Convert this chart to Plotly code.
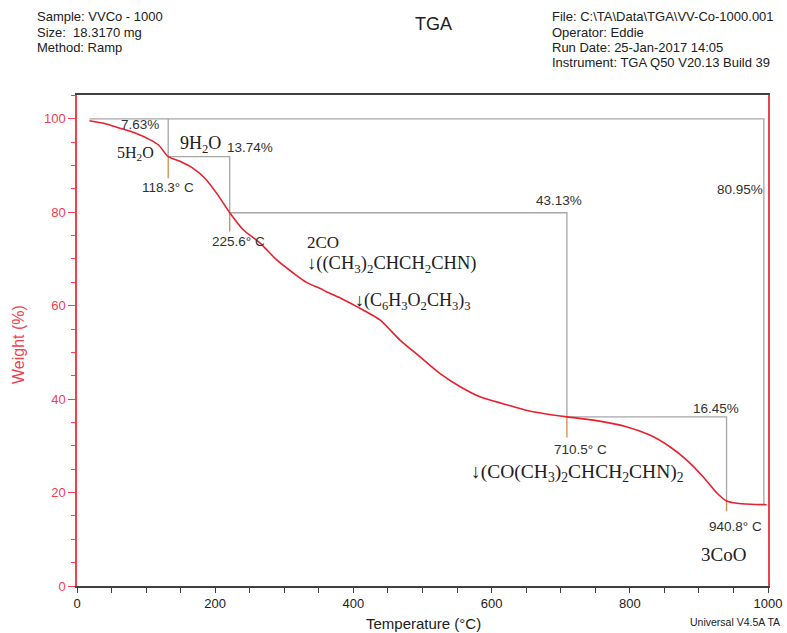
import plotly.graph_objects as go

# ---- data ----
temp_c = [18, 40, 62, 85, 106, 118, 132, 149, 168, 183, 202, 221, 241, 265, 289, 313,
          332, 352, 361, 383, 405, 438, 467, 496, 525, 554, 583, 622, 660, 709, 747,
          795, 829, 858, 882, 906, 926, 940, 955, 975, 998]
weight_pct = [99.6, 99.0, 98.0, 96.9, 95.5, 94.4, 91.9, 90.9, 89.4, 87.6, 84.1, 79.9,
              76.2, 73.4, 69.8, 67.0, 65.0, 63.7, 63.0, 61.5, 59.8, 57.0, 52.7, 49.1,
              45.5, 42.7, 40.5, 38.8, 37.3, 36.2, 35.5, 34.1, 32.3, 29.8, 27.0, 23.4,
              19.9, 18.2, 17.7, 17.5, 17.4]

# step analysis (onset positions as drawn, weights at onset)
step_T = [132, 221, 709, 940]
step_W = [91.9, 79.9, 36.2, 18.2]
step_tick = [4.6, 4.0, 4.4, 2.2]          # length of the marker below the curve
start_T, start_W = 18, 100.0
total_T, total_W = 994, 17.4

step_loss_labels = ["7.63%", "13.74%", "43.13%", "16.45%"]
total_loss_label = "80.95%"
step_temp_labels = ["118.3\u00b0 C", "225.6\u00b0 C", "710.5\u00b0 C", "940.8\u00b0 C"]

x_ticks = [0, 200, 400, 600, 800, 1000]
y_ticks = [0, 20, 40, 60, 80, 100]

RED = "#e8202e"
AXRED = "#f0404e"
GRAY = "#a6a6a6"
ORANGE = "#d08a50"
SANS = "Liberation Sans, Arial, sans-serif"
SERIF = "Liberation Serif, Times New Roman, serif"

W, H = 787, 633
ML, MR, MT, MB = 77, 19, 95, 47
PW, PH = W - ML - MR, H - MT - MB

def px(xp):
    return (xp - ML) / PW

def py(yp):
    return (H - MB - yp) / PH

fig = go.Figure()

# bracket lines (gray) built from the step arrays
bx, by = [start_T, total_T, total_T, None], [start_W, start_W, total_W, None]
prev_T, prev_W = None, start_W
for i, (t, w) in enumerate(zip(step_T, step_W)):
    if i == 0:
        bx += [t, t, None]
        by += [start_W, w, None]
    else:
        bx += [prev_T, t, t, None]
        by += [prev_W, prev_W, w, None]
    prev_T, prev_W = t, w
fig.add_trace(go.Scatter(x=bx, y=by, mode="lines", line=dict(color=GRAY, width=1.3),
                         hoverinfo="skip", showlegend=False))

# onset markers below the curve
ox, oy = [], []
for t, w, d in zip(step_T, step_W, step_tick):
    ox += [t, t, None]
    oy += [w, w - d, None]
fig.add_trace(go.Scatter(x=ox, y=oy, mode="lines", line=dict(color=ORANGE, width=1.3),
                         hoverinfo="skip", showlegend=False))

# TGA curve
fig.add_trace(go.Scatter(x=temp_c, y=weight_pct, mode="lines",
                         line=dict(color=RED, width=1.6, shape="spline", smoothing=0.6),
                         showlegend=False))

ann = []
def txt(x, y, s, size=13.5, family=SANS, xanchor="center", color="#303030"):
    ann.append(dict(x=x, y=y, xref="x", yref="y", text=s, showarrow=False,
                    xanchor=xanchor, yanchor="middle",
                    font=dict(size=size, family=family, color=color)))

def ptxt(xp, yp, s, size=12, color="#202020", xanchor="left", angle=0, family=SANS):
    ann.append(dict(x=px(xp), y=py(yp), xref="paper", yref="paper", text=s,
                    showarrow=False, xanchor=xanchor, yanchor="middle", textangle=angle,
                    font=dict(size=size, family=family, color=color)))

# percentages
txt(91, 98.7, step_loss_labels[0])
txt(251, 93.8, step_loss_labels[1])
txt(698, 82.6, step_loss_labels[2])
txt(925, 37.9, step_loss_labels[3])
txt(959, 84.8, total_loss_label)
# temperatures
txt(131, 85.2, step_temp_labels[0])
txt(234, 73.8, step_temp_labels[1])
txt(728, 29.2, step_temp_labels[2])
txt(953, 12.8, step_temp_labels[3])
# species
txt(84, 92.5, "5H<sub>2</sub>O", size=16, family=SERIF, color="#202020")
txt(178, 94.5, "9H<sub>2</sub>O", size=18, family=SERIF, color="#202020")
txt(330, 73.6, "2CO", size=17, family=SERIF, xanchor="left", color="#202020")
txt(330, 68.8, "\u2193((CH<sub>3</sub>)<sub>2</sub>CHCH<sub>2</sub>CHN)", size=18.5,
    family=SERIF, xanchor="left", color="#202020")
txt(400, 61.0, "\u2193(C<sub>6</sub>H<sub>3</sub>O<sub>2</sub>CH<sub>3</sub>)<sub>3</sub>",
    size=18, family=SERIF, xanchor="left", color="#202020")
txt(568, 24.2, "\u2193(CO(CH<sub>3</sub>)<sub>2</sub>CHCH<sub>2</sub>CHN)<sub>2</sub>",
    size=19.5, family=SERIF, xanchor="left", color="#202020")
txt(936, 6.7, "3CoO", size=19, family=SERIF, color="#202020")

# axis titles
ptxt(18, 345, "Weight (%)", size=16, color=AXRED, xanchor="center", angle=-90)
ptxt(423, 623, "Temperature (\u00b0C)", size=15, xanchor="center")
ptxt(735, 622, "Universal V4.5A TA", size=10.5, xanchor="center")

# header
hdr_left = ["Sample: VVCo - 1000", "Size:  18.3170 mg", "Method: Ramp"]
hdr_right = ["File: C:\\TA\\Data\\TGA\\VV-Co-1000.001", "Operator: Eddie",
             "Run Date: 25-Jan-2017 14:05", "Instrument: TGA Q50 V20.13 Build 39"]
for i, s in enumerate(hdr_left):
    ptxt(35, 17 + 15 * i, s, size=13)
for i, s in enumerate(hdr_right):
    ptxt(550, 17 + 15.3 * i, s, size=13)
ptxt(433, 24, "TGA", size=18, xanchor="center")

fig.update_layout(
    width=W, height=H,
    margin=dict(l=ML, r=MR, t=MT, b=MB, autoexpand=False),
    paper_bgcolor="white", plot_bgcolor="white",
    annotations=ann,
    xaxis=dict(range=[0, 1000], tickvals=x_ticks, ticktext=[str(v) for v in x_ticks],
               automargin=False,
               showgrid=False, zeroline=False, showline=True, linecolor="#404040",
               linewidth=1.5, mirror=True, ticks="outside", ticklen=5, tickwidth=1,
               tickcolor="#404040",
               minor=dict(dtick=50, ticks="outside", ticklen=5, tickcolor="#404040"),
               tickfont=dict(size=13, family=SANS, color="#202020")),
    yaxis=dict(range=[0, 105.1], tickvals=y_ticks, ticktext=[str(v) for v in y_ticks],
               automargin=False,
               showgrid=False, zeroline=False, showline=True, linecolor=AXRED,
               linewidth=1.5, mirror=True, ticks="outside", ticklen=7, tickwidth=1,
               tickcolor=AXRED,
               minor=dict(dtick=5, ticks="outside", ticklen=4, tickcolor=AXRED),
               tickfont=dict(size=13, family=SANS, color=AXRED)),
)

fig.write_html("out.html")
